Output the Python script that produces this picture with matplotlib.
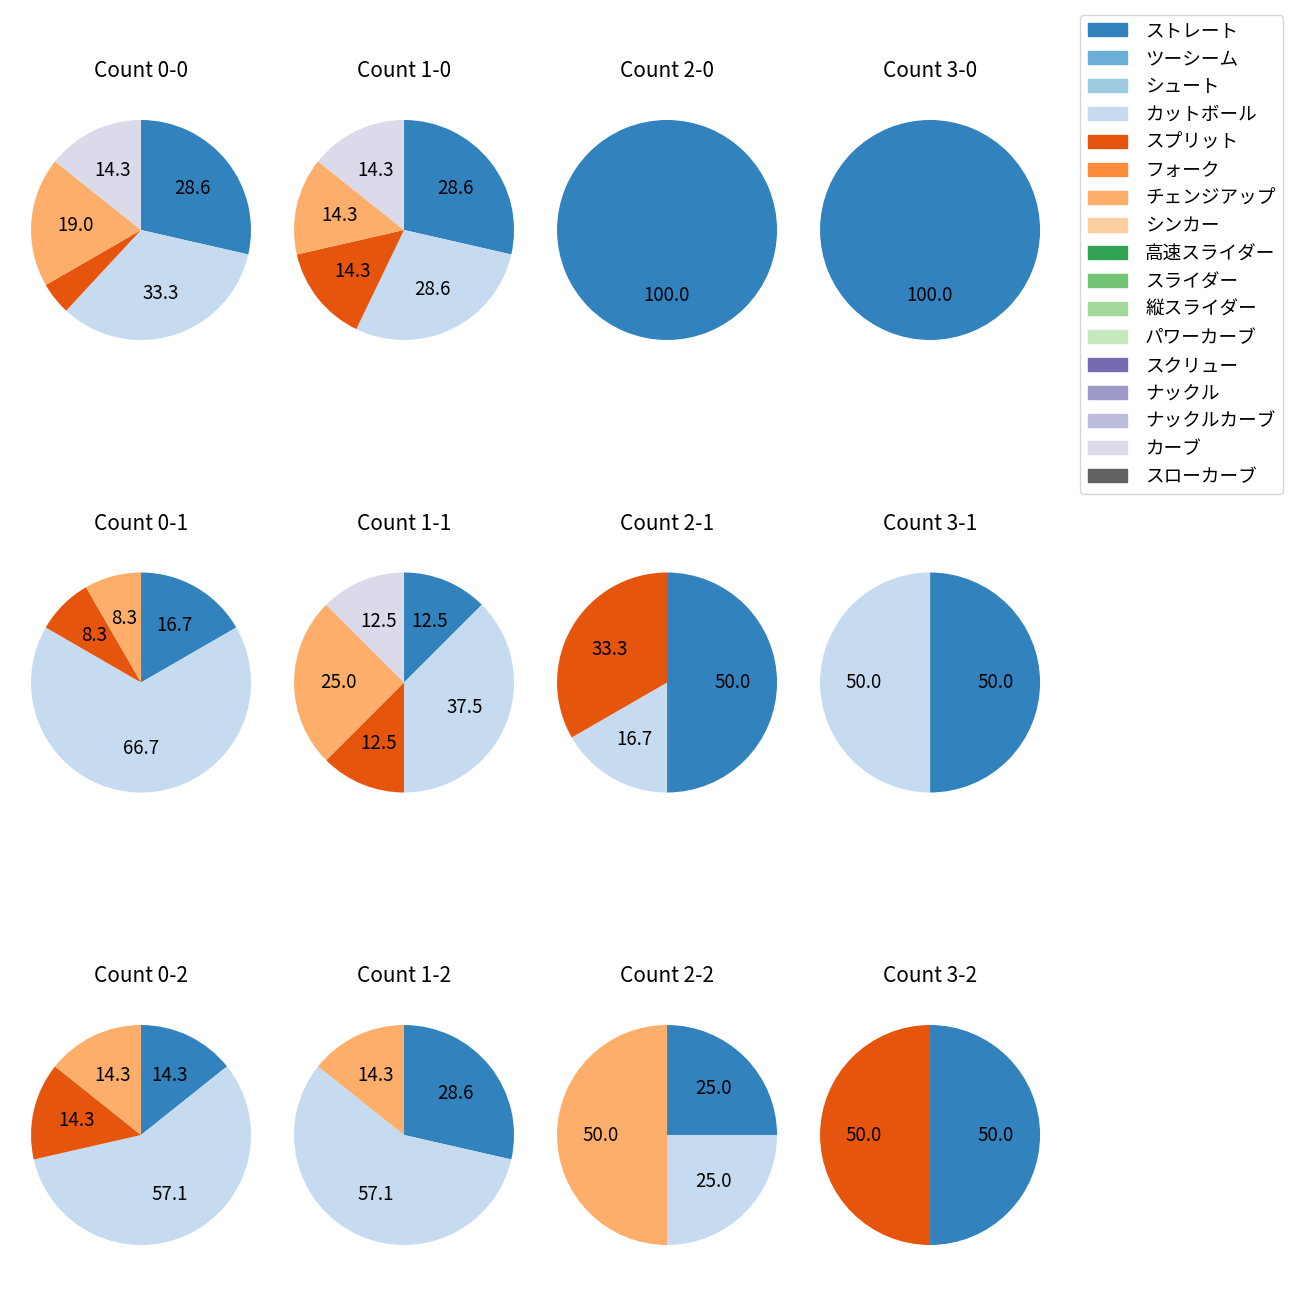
import matplotlib
matplotlib.use("Agg")
import matplotlib.pyplot as plt
from matplotlib.patches import Patch

plt.rcParams['font.family'] = ['Noto Sans CJK JP', 'DejaVu Sans']

pitch_types = ['ストレート', 'ツーシーム', 'シュート', 'カットボール', 'スプリット',
               'フォーク', 'チェンジアップ', 'シンカー', '高速スライダー', 'スライダー',
               '縦スライダー', 'パワーカーブ', 'スクリュー', 'ナックル', 'ナックルカーブ',
               'カーブ', 'スローカーブ']

# pitch counts per ball-strike count (only the types that appear)
count_00 = {'ストレート': 6, 'カットボール': 7, 'スプリット': 1, 'チェンジアップ': 4, 'カーブ': 3}
count_10 = {'ストレート': 2, 'カットボール': 2, 'スプリット': 1, 'チェンジアップ': 1, 'カーブ': 1}
count_20 = {'ストレート': 1}
count_30 = {'ストレート': 1}
count_01 = {'ストレート': 2, 'カットボール': 8, 'スプリット': 1, 'チェンジアップ': 1}
count_11 = {'ストレート': 1, 'カットボール': 3, 'スプリット': 1, 'チェンジアップ': 2, 'カーブ': 1}
count_21 = {'ストレート': 3, 'カットボール': 1, 'スプリット': 2}
count_31 = {'ストレート': 1, 'カットボール': 1}
count_02 = {'ストレート': 1, 'カットボール': 4, 'スプリット': 1, 'チェンジアップ': 1}
count_12 = {'ストレート': 2, 'カットボール': 4, 'チェンジアップ': 1}
count_22 = {'ストレート': 1, 'カットボール': 1, 'チェンジアップ': 2}
count_32 = {'ストレート': 1, 'スプリット': 1}

grid = [[('0-0', count_00), ('1-0', count_10), ('2-0', count_20), ('3-0', count_30)],
        [('0-1', count_01), ('1-1', count_11), ('2-1', count_21), ('3-1', count_31)],
        [('0-2', count_02), ('1-2', count_12), ('2-2', count_22), ('3-2', count_32)]]

cmap = plt.get_cmap('tab20c')
colors = {p: cmap(i) for i, p in enumerate(pitch_types)}


def autopct(pct):
    return '%.1f' % pct if pct >= 5 else ''


fig, axes = plt.subplots(3, 4, figsize=(13, 13))
fig.subplots_adjust(left=0.0027, right=0.8212, top=0.92885, bottom=0.02115,
                    wspace=-0.0436, hspace=0.6455)

for r, row in enumerate(grid):
    for c, (name, counts) in enumerate(row):
        ax = axes[r][c]
        labels = [p for p in pitch_types if p in counts]
        vals = [counts[p] for p in labels]
        ax.pie(vals, colors=[colors[p] for p in labels], startangle=90,
               counterclock=False, autopct=autopct, textprops={'fontsize': 13.5})
        ax.set_title('Count ' + name, fontsize=15, pad=11)

handles = [Patch(color=colors[p], label=p) for p in pitch_types]
fig.legend(handles=handles, loc='upper right', fontsize=13.4,
           labelspacing=0.53, handletextpad=1.0, handlelength=2.1,
           bbox_to_anchor=(0.9941, 0.9956))

fig.savefig('out.png', dpi=100)
